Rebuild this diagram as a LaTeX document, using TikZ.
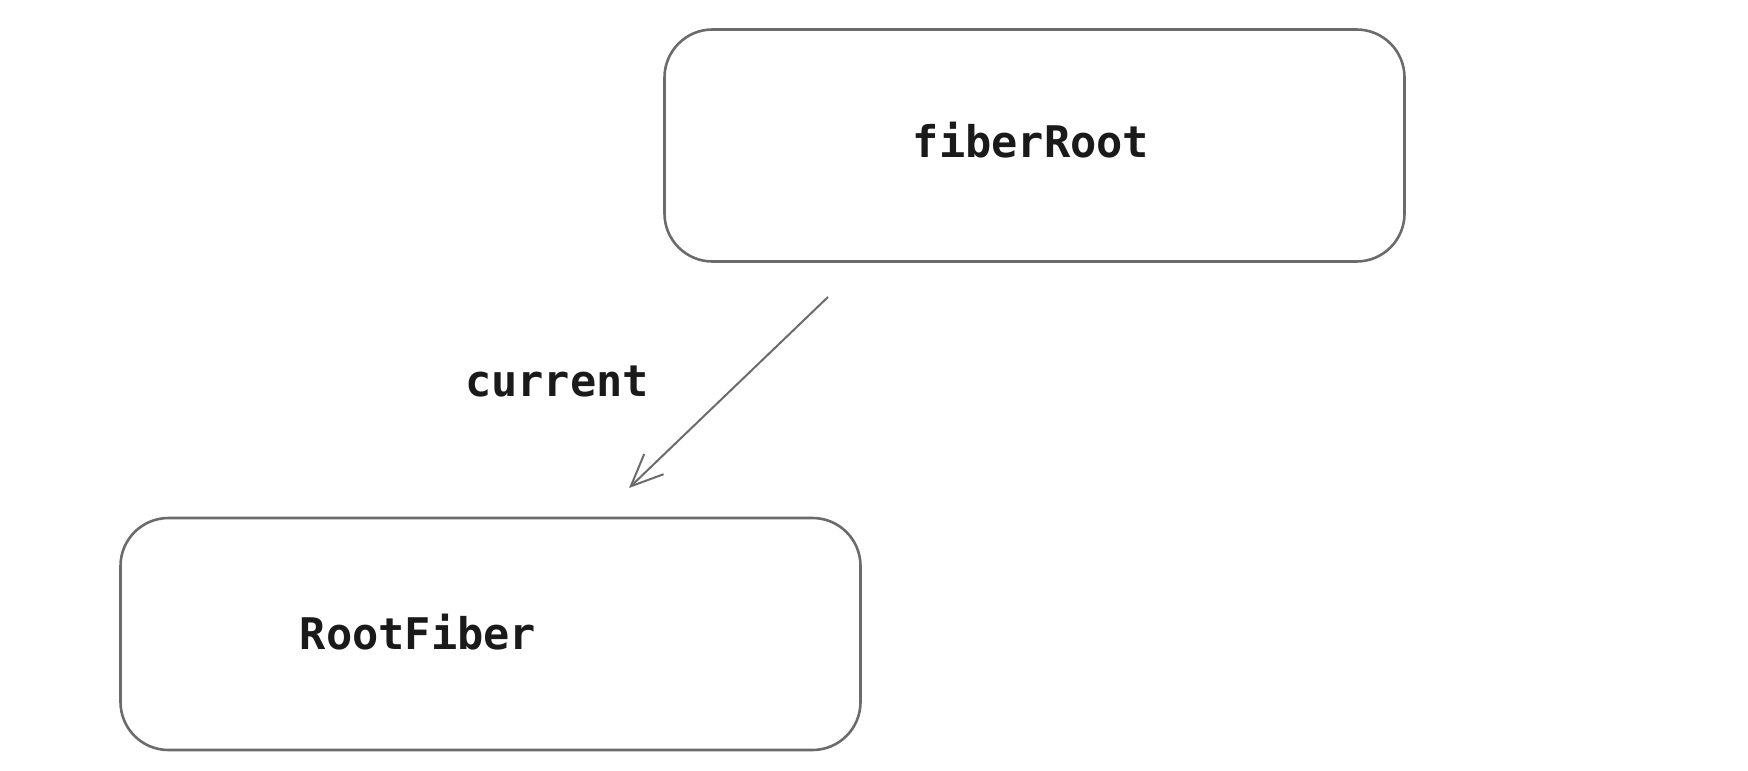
\documentclass[tikz,border=0pt]{standalone}
\usepackage{fontspec}
\setmonofont{DejaVu Sans Mono}
\usetikzlibrary{arrows.meta}
\definecolor{edgegray}{HTML}{6B6B6B}
\definecolor{inkblack}{HTML}{1A1A1A}
\tikzset{
  fiberbox/.style={draw=edgegray, line width=1.3pt, rounded corners=24pt,
    minimum width=370pt, minimum height=116pt, inner sep=0pt},
  label/.style={text=inkblack, font=\ttfamily\bfseries\fontsize{21.8}{26}\selectfont},
  ptr/.style={draw=edgegray, line width=1pt, -{Straight Barb[length=16pt,width=14pt,line width=1pt]}}
}

\begin{document}
\begin{tikzpicture}[x=1pt,y=1pt]
\useasboundingbox (0,0) rectangle (874,-385);
\draw (517.25,-72.75) node[fiberbox] (fr) {};
\draw (245.25,-317) node[fiberbox] (rf) {};
\draw (515.5,-70) node[label] (frlabel) {fiberRoot};
\draw (209,-316) node[label] (rflabel) {RootFiber};
\draw (278.5,-190.5) node[label] (cur) {current};
\coordinate (from) at (414,-148.5);
\coordinate (to) at (314.5,-244);
\draw[ptr] (from) -- (to);
\end{tikzpicture}
\end{document}
